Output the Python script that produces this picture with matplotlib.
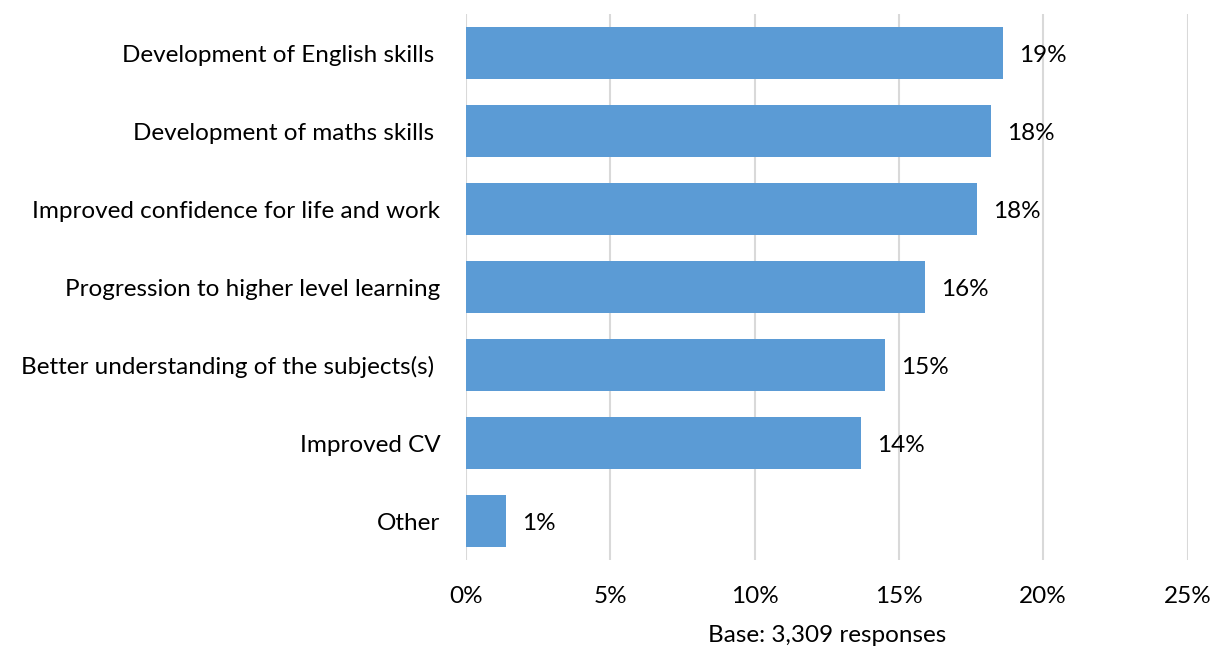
import matplotlib
matplotlib.use("Agg")
import matplotlib.pyplot as plt

categories = [
    "Development of English skills ",
    "Development of maths skills ",
    "Improved confidence for life and work",
    "Progression to higher level learning",
    "Better understanding of the subjects(s) ",
    "Improved CV",
    "Other",
]
values = [18.61, 18.19, 17.71, 15.90, 14.52, 13.69, 1.39]
xticks = [0, 5, 10, 15, 20, 25]
xlabel = "Base: 3,309 responses"

FS = 17.5
plt.rcParams['font.family'] = ['Lato', 'DejaVu Sans']
fig = plt.figure(figsize=(12.13, 6.46), dpi=100)
ax = fig.add_axes([466/1213, 1-560/646, (1187.5-466)/1213, (560-14)/646])

ypos = list(range(len(categories)))
ax.barh(ypos, values, height=0.667, color="#5B9BD5", zorder=3)
for y, v in zip(ypos, values):
    ax.text(v + 0.55, y + 0.03, f"{v:.0f}%", va="center", ha="left", fontsize=FS, color="#000000")

ax.set_ylim(len(categories) - 0.5, -0.5)
ax.set_xlim(0, 25)
ax.set_yticks(ypos)
ax.set_yticklabels(categories, fontsize=FS)
ax.set_xticks(xticks)
ax.set_xticklabels([f"{t}%" for t in xticks], fontsize=FS)
ax.tick_params(axis="both", length=0)
ax.tick_params(axis="y", pad=18.5)
ax.tick_params(axis="x", pad=18.5)
ax.grid(axis="x", color="#D9D9D9", linewidth=1.5, zorder=0)
for s in ax.spines.values():
    s.set_visible(False)
ax.set_xlabel(xlabel, fontsize=FS, labelpad=13)

fig.savefig("out.png", dpi=100)
